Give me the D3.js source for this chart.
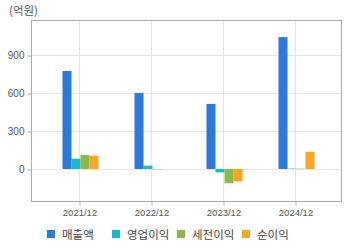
<!DOCTYPE html>
<html><head><meta charset="utf-8">
<script src="https://cdn.jsdelivr.net/npm/d3@7"></script>
<style>body{margin:0;background:#fff}svg{display:block}</style>
</head><body>
<svg id="c" width="360" height="248"></svg>
<script>
const categories = ["2021/12","2022/12","2023/12","2024/12"];
const seriesNames = ["매출액","영업이익","세전이익","순이익"];
const revenue = [774, 600, 514, 1042];
const operating = [81, 26, -27, 3];
const pretax = [112, -3, -113, 3];
const net = [105, 0, -98, 136];
const yTicks = [0, 300, 600, 900];
const colors = ["#2b7bde","#17b9cc","#8bb94a","#f8a626"];
const seriesValues = [revenue, operating, pretax, net];

const svg = d3.select("#c");
const L = 31, R = 342, T = 20, B = 201;
const y = d3.scaleLinear().domain([-253, 1177]).range([B, T]);
const x0 = d3.scalePoint().domain(categories).range([79, 295]);
const x1 = d3.scaleBand().domain(seriesNames).range([-16.5, 19.5]).padding(0);

// gridlines
svg.append("g").selectAll("line").data(yTicks).join("line")
  .attr("x1", L).attr("x2", R)
  .attr("y1", d => Math.round(y(d)) + 0.5).attr("y2", d => Math.round(y(d)) + 0.5)
  .attr("stroke", "#e5e5e5");
svg.append("g").selectAll("line").data(categories).join("line")
  .attr("x1", d => Math.round(x0(d)) + 0.5).attr("x2", d => Math.round(x0(d)) + 0.5)
  .attr("y1", T).attr("y2", B)
  .attr("stroke", "#e5e5e5");

// bars
const groups = svg.append("g").selectAll("g").data(categories).join("g")
  .attr("transform", d => `translate(${x0(d)},0)`);
groups.selectAll("rect")
  .data((d, i) => seriesNames.map((s, j) => ({s, v: seriesValues[j][i], c: colors[j]})))
  .join("rect")
  .attr("x", d => x1(d.s))
  .attr("width", x1.bandwidth())
  .attr("y", d => y(Math.max(0, d.v)))
  .attr("height", d => Math.abs(y(d.v) - y(0)))
  .attr("fill", d => d.c);

// frame
svg.append("rect").attr("x", L + 0.5).attr("y", T + 0.5)
  .attr("width", R - L - 1).attr("height", B - T)
  .attr("fill", "none").attr("stroke", "#aaaaaa");

// y axis
const yAxis = d3.axisLeft(y).tickValues(yTicks).tickSize(4).tickPadding(3);
const gy = svg.append("g").attr("transform", `translate(${L + 0.5},0.5)`).call(yAxis);
gy.select(".domain").remove();
gy.selectAll("line").attr("stroke", "#aaaaaa");
gy.selectAll("text").attr("fill", "#555").style("font", "10px 'Liberation Sans', Arial, sans-serif");

// x axis
const xAxis = d3.axisBottom(x0).tickSize(4).tickPadding(4);
const gx = svg.append("g").attr("transform", `translate(0.5,${B + 0.5})`).call(xAxis);
gx.select(".domain").remove();
gx.selectAll("line").attr("stroke", "#aaaaaa");
gx.selectAll("text").attr("fill", "#555").style("font", "9.5px 'Liberation Sans', Arial, sans-serif");

// unit
svg.append("text").attr("x", 9).attr("y", 15).text("(억원)")
  .attr("fill", "#555").style("font", "11.5px 'Noto Sans CJK KR', sans-serif");

// legend
const legX = [47, 112, 177, 242];
const leg = svg.append("g").selectAll("g").data(seriesNames).join("g")
  .attr("transform", (d, i) => `translate(${legX[i]},230)`);
leg.append("rect").attr("width", 8).attr("height", 8).attr("fill", (d, i) => colors[i]);
leg.append("text").attr("x", 15).attr("y", 9).text(d => d)
  .attr("fill", "#444").style("font", "11.5px 'Noto Sans CJK KR', sans-serif");
</script>
</body></html>
